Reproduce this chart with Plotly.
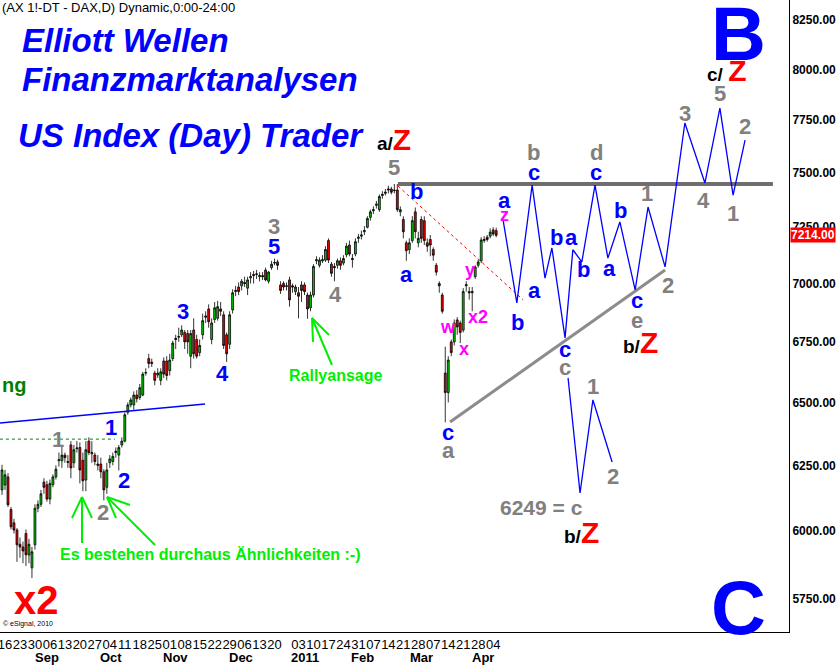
import plotly.graph_objects as go
import math

# ---------------- data ----------------
# trading-day index (0 = Mon 16 Aug 2010)
bar_index = list(range(-1, 165))
opens = [6155,6174,6205,6080,6030,6003,5950,5940,5990,5910,5863,5948,6085,6100,6185,6175,6120,6175,6205,6268,
         6268,6290,6265,6330,6260,6315,6320,6270,6193,6345,6295,6290,6255,6255,6225,6165,6260,6265,6300,6290,
         6330,6345,6460,6490,6490,6530,6520,6530,6620,6680,6665,6620,6612,6590,6670,6670,6630,6680,6765,6770,
         6780,6790,6785,6690,6800,6760,6705,6780,6860,6890,6760,6845,6850,6890,6865,6780,6740,6886,6965,6985,
         6990,7005,6980,7025,7040,7040,7030,7035,7059,7010,7070,7090,7095,6994,7000,6990,7016,6990,6965,6960,
         6994,6994,6950,6895,6950,7100,7080,7100,7103,7190,7085,7075,7080,7100,7090,7127,7170,7105,7130,7200,
         7210,7230,7250,7295,7325,7350,7330,7395,7405,7420,7425,7420,7420,7320,7285,7180,7150,7190,7320,7180,
         7285,7280,7180,7195,7150,7080,7000,6950,6620,6540,6750,6750,6843,6830,6800,6990,6965,6960,7030,7080,
         7100,7190,7205,7210,7238,7235]
highs = [6252,6232,6220,6090,6045,6010,5975,5960,6005,5970,5940,6100,6115,6155,6200,6190,6195,6215,6250,6300,
         6330,6300,6290,6345,6330,6345,6340,6300,6345,6360,6345,6300,6290,6280,6235,6260,6290,6300,6320,6330,
         6360,6460,6500,6520,6545,6550,6575,6625,6640,6700,6680,6630,6640,6640,6685,6690,6700,6755,6780,6810,
         6820,6800,6800,6800,6850,6780,6760,6870,6880,6910,6850,6920,6925,6920,6880,6790,6880,6975,6990,7005,
         7020,7030,7030,7050,7055,7060,7050,7050,7070,7055,7100,7110,7105,7010,7010,7005,7030,7000,6995,6985,
         7010,7005,6960,6965,7085,7120,7115,7125,7165,7200,7095,7090,7110,7115,7125,7180,7190,7130,7200,7220,
         7235,7255,7300,7330,7345,7370,7400,7415,7425,7440,7435,7448,7448,7345,7300,7190,7200,7300,7340,7230,
         7300,7300,7200,7215,7160,7090,7010,6960,6730,6690,6760,6845,6855,6840,6980,7010,6985,6985,7080,7105,
         7205,7210,7215,7245,7250,7248]
lows = [6136,6155,6090,6005,5990,5885,5900,5880,5870,5880,5826,5930,6070,6090,6140,6110,6100,6165,6195,6245,
        6240,6260,6240,6200,6240,6300,6180,6150,6150,6290,6260,6250,6230,6200,6115,6140,6240,6250,6280,6230,
        6320,6340,6450,6480,6470,6500,6510,6525,6610,6640,6645,6570,6600,6570,6600,6590,6610,6670,6720,6750,
        6770,6720,6700,6640,6680,6680,6690,6760,6830,6810,6740,6830,6840,6860,6720,6666,6720,6870,6945,6950,
        6970,6985,6950,7000,7000,7020,7010,7015,7010,7000,7060,7080,7060,6955,6970,6970,6900,6960,6950,6850,
        6920,6950,6848,6880,6940,7085,7070,7090,7095,7090,7030,7010,7065,7060,7080,7115,7120,7070,7120,7180,
        7195,7215,7245,7280,7310,7335,7320,7380,7395,7405,7400,7405,7320,7300,7200,7100,7130,7180,7200,7160,
        7180,7170,7140,7120,7100,7035,6960,6870,6420,6500,6690,6735,6780,6745,6790,6965,6930,6880,7020,7070,
        7090,7180,7185,7200,7210,7205]
closes = [6232,6213,6098,6015,6003,5948,5940,5925,5911,5950,5922,6085,6100,6140,6165,6120,6180,6205,6235,6272,
          6290,6280,6262,6240,6311,6318,6232,6190,6311,6300,6300,6265,6250,6225,6155,6232,6275,6285,6305,6320,
          6345,6450,6490,6510,6530,6515,6560,6616,6622,6660,6660,6590,6620,6625,6616,6610,6674,6745,6760,6772,
          6800,6750,6750,6785,6700,6690,6735,6840,6855,6835,6830,6895,6900,6880,6735,6700,6865,6960,6970,6965,
          7010,7000,7016,7030,7035,7042,7035,7030,7016,7050,7085,7092,7080,6970,6985,6988,6929,6985,6985,6945,
          6970,6965,6890,6950,7075,7105,7103,7105,7150,7103,7045,7070,7100,7080,7110,7165,7130,7110,7185,7205,
          7215,7235,7290,7320,7330,7355,7390,7400,7410,7425,7410,7418,7330,7330,7230,7145,7180,7280,7230,7200,
          7200,7190,7165,7170,7125,7050,6990,6880,6540,6674,6705,6830,6813,6790,6965,6995,6960,6965,7073,7095,
          7193,7195,7195,7228,7220,7214]
last_price = 7214

# x-axis: Monday tick positions and labels
week_ticks = [0,5,10,15,20,25,30,35,40,45,50,55,60,65,70,75,80,85,90,
              98,103,108,113,118,123,128,133,138,143,148,153,158,163]
week_labels = ["16","23","30","06","13","20","27","04","11","18","25","01","08","15","22","29","06","13","20",
               "03","10","17","24","31","07","14","21","28","07","14","21","28","04"]
month_labels = ["Sep","Oct","Nov","Dec","2011","Feb","Mar","Apr"]
month_pos = [14.0,35.4,56.8,78.8,100.2,119.2,139.2,159.6]
price_ticks = [5750,6000,6250,6500,6750,7000,7250,7500,7750,8000,8250]

# drawn lines (bar index, price)
resist_x, resist_y = [131.2, 256.4], [7448, 7448]
support_x, support_y = [148.6, 220.4], [6421, 7059]
redline_x, redline_y = [131.2, 173.0], [7439, 6929]
blueline_x, blueline_y = [-1.7, 66.8], [6417, 6494]
greenline_x, greenline_y = [-1.7, 36.7], [6353, 6353]
proj_x = [166.3,170.9,176.0,180.3,182.6,187.0,189.6,192.6,197.0,201.3,205.3,210.4,214.7,220.4,227.0,233.7,238.7,243.1,247.1]
proj_y = [7283,6916,7443,7024,7157,6767,7149,7095,7443,7112,7274,6972,7342,7073,7737,7453,7809,7397,7655]
alt_x = [188.0,192.0,196.3,202.7]
alt_y = [6600,6143,6510,6263]

# ---------------- figure ----------------
W, H = 838, 665
PW, PH = 789, 632
FONT = "Liberation Sans, Arial, sans-serif"

def paper(x, y):
    return x / PW, 1 - y / PH

fig = go.Figure()

fig.add_trace(go.Scatter(x=greenline_x, y=greenline_y, mode="lines",
                         line=dict(color="#008000", width=1, dash="dot"), hoverinfo="skip"))
fig.add_trace(go.Scatter(x=blueline_x, y=blueline_y, mode="lines",
                         line=dict(color="#0000FF", width=1.5), hoverinfo="skip"))

fig.add_trace(go.Candlestick(
    x=bar_index, open=opens, high=highs, low=lows, close=closes,
    increasing=dict(line=dict(color="black", width=0.8), fillcolor="#00CC00"),
    decreasing=dict(line=dict(color="black", width=0.8), fillcolor="#EE0000"),
    whiskerwidth=0, hoverinfo="skip"))

fig.add_trace(go.Scatter(x=resist_x, y=resist_y, mode="lines",
                         line=dict(color="#6E6E6E", width=4), hoverinfo="skip"))
fig.add_trace(go.Scatter(x=support_x, y=support_y, mode="lines",
                         line=dict(color="#8C8C8C", width=3), hoverinfo="skip"))
fig.add_trace(go.Scatter(x=redline_x, y=redline_y, mode="lines",
                         line=dict(color="#FF0000", width=1, dash="dot"), hoverinfo="skip"))
fig.add_trace(go.Scatter(x=proj_x, y=proj_y, mode="lines",
                         line=dict(color="#0000FF", width=1.3), hoverinfo="skip"))
fig.add_trace(go.Scatter(x=alt_x, y=alt_y, mode="lines",
                         line=dict(color="#0000FF", width=1.3), hoverinfo="skip"))

ann = []

def label(text, x, y, color, size, bold=True, italic=False, xanchor="center", yanchor="middle"):
    px, py = paper(x, y)
    t = text
    if bold:
        t = "<b>" + t + "</b>"
    if italic:
        t = "<i>" + t + "</i>"
    ann.append(dict(text=t, x=px, y=py, xref="paper", yref="paper", showarrow=False,
                    xanchor=xanchor, yanchor=yanchor,
                    font=dict(family=FONT, size=size, color=color)))

GRAY, BLUE, MAG, RED, BLK = "#808080", "#0000FF", "#FF00FF", "#FF0000", "#000000"
GREEN = "#00EE00"

# header and titles
label("(AX 1!-DT - DAX,D) Dynamic,0:00-24:00", 0, 8, BLK, 13, bold=False, xanchor="left")
label("Elliott Wellen", 20, 40, BLUE, 33, italic=True, xanchor="left")
label("Finanzmarktanalysen", 20, 79, BLUE, 33, italic=True, xanchor="left")
label("US Index (Day) Trader", 16, 135, BLUE, 33, italic=True, xanchor="left")
label("ng", 0, 385, "#008000", 20, xanchor="left")
label("Rallyansage", 287, 376, GREEN, 16, xanchor="left")
label("Es bestehen durchaus Ähnlichkeiten :-)", 58, 554, GREEN, 16, xanchor="left")
label("© eSignal, 2010", 1, 624, BLK, 7, bold=False, xanchor="left")

# wave labels
waves = [
    ("1", 58, 439, GRAY), ("1", 111, 428, BLUE), ("2", 124, 480, BLUE), ("2", 103, 512, GRAY),
    ("3", 183, 311, BLUE), ("4", 222, 373, BLUE), ("3", 274, 226, GRAY), ("5", 274, 246, BLUE),
    ("4", 335, 294, GRAY), ("5", 394, 167, GRAY), ("b", 416, 191, BLUE), ("a", 406, 274, BLUE),
    ("c", 448, 432, BLUE), ("a", 448, 450, GRAY), ("a", 505, 201, BLUE), ("b", 517, 323, BLUE),
    ("b", 533, 153, GRAY), ("c", 534, 172, BLUE), ("d", 596, 153, GRAY), ("c", 596, 172, BLUE),
    ("a", 534, 290, BLUE), ("b", 556, 237, BLUE), ("a", 571, 237, BLUE), ("b", 583, 269, BLUE),
    ("c", 565, 350, BLUE), ("c", 565, 367, GRAY), ("a", 609, 268, BLUE), ("b", 620, 210, BLUE),
    ("1", 647, 193, GRAY), ("c", 637, 300, BLUE), ("e", 637, 320, GRAY), ("2", 668, 285, GRAY),
    ("3", 685, 113, GRAY), ("5", 720, 93, GRAY), ("4", 703, 200, GRAY), ("1", 733, 213, GRAY),
    ("2", 745, 127, GRAY), ("1", 593, 386, GRAY), ("2", 613, 476, GRAY),
]
for t, x, y, c in waves:
    label(t, x, y, c, 22)
for t, x, y in [("w", 448, 327), ("x", 464, 349), ("x2", 478, 317), ("y", 470, 270), ("z", 504, 215)]:
    label(t, x, y, MAG, 18)

label("6249 = c", 541, 508, GRAY, 21)

def slashZ(prefix, x, y):
    label(prefix + "<span style='color:#FF0000;font-size:30px'>Z</span>", x, y, BLK, 19)

slashZ("a/", 394, 140)
slashZ("c/ ", 726, 70)
slashZ("b/", 640, 342)
slashZ("b/", 581, 532)

label("B", 738, 34, BLUE, 76)
label("C", 738, 607, BLUE, 76)
label("x2", 36, 600, RED, 40)

# month labels
for m, p in zip(month_labels, month_pos):
    ann.append(dict(text="<b>" + m + "</b>", x=p, y=1 - 657 / PH, xref="x", yref="paper",
                    showarrow=False, xanchor="center", yanchor="middle",
                    font=dict(family=FONT, size=13, color=BLK)))

# current price box
ann.append(dict(text="<b>%.2f</b>" % last_price, x=1, y=math.log10(last_price), xref="paper", yref="y",
                showarrow=False, xanchor="left", yanchor="middle", bgcolor="#FF0000", borderpad=0,
                xshift=1, font=dict(family=FONT, size=12, color="white")))

# green arrows as shapes (pixel space)
shapes = []
def seg(x0, y0, x1, y1, color=GREEN, width=2):
    a0, b0 = paper(x0, y0)
    a1, b1 = paper(x1, y1)
    shapes.append(dict(type="line", xref="paper", yref="paper", x0=a0, y0=b0, x1=a1, y1=b1,
                       line=dict(color=color, width=width)))

seg(332, 365, 312, 318); seg(312, 318, 313, 342); seg(312, 318, 329, 335)
seg(82, 543, 82, 497); seg(82, 497, 72, 518); seg(82, 497, 92, 518)
seg(155, 545, 107, 497); seg(107, 497, 116, 518); seg(107, 497, 130, 505)

fig.update_layout(
    width=W, height=H,
    margin=dict(l=0, r=W - PW, t=0, b=H - PH, autoexpand=False),
    paper_bgcolor="white", plot_bgcolor="white",
    showlegend=False, boxgap=0.1,
    annotations=ann, shapes=shapes,
    xaxis=dict(range=[-1.669, 261.77], showgrid=False, zeroline=False, showline=True,
               linecolor="black", linewidth=1, tickmode="array", tickvals=week_ticks,
               ticktext=week_labels, tickangle=0, ticks="", ticklabeloverflow="allow",
               tickfont=dict(family=FONT, size=13, color=BLK),
               rangeslider=dict(visible=False)),
    yaxis=dict(type="log", side="right", range=[math.log10(5633.2), math.log10(8353.5)],
               showgrid=False, zeroline=False, showline=True, linecolor="black", linewidth=1,
               tickmode="array", tickvals=price_ticks, ticktext=["<b>%.2f</b>" % v for v in price_ticks],
               ticks="", ticklabeloverflow="allow", tickfont=dict(family=FONT, size=12, color=BLK)),
)

fig.write_html("out.html", config={"displayModeBar": False},
               post_script="document.body.style.margin='0px';document.body.style.overflow='hidden';")
